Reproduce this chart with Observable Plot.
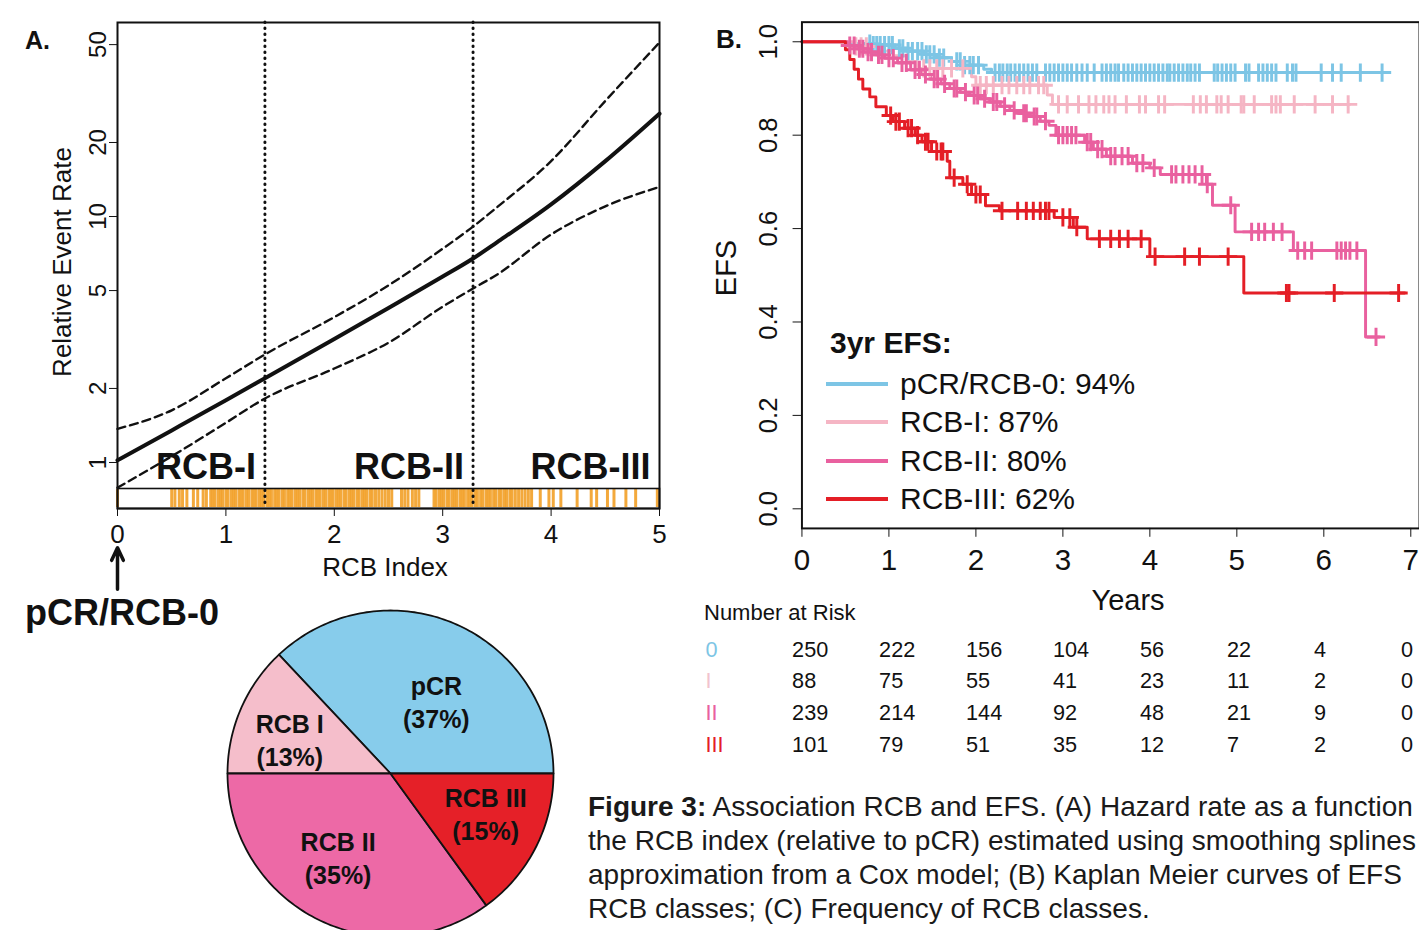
<!DOCTYPE html>
<html><head><meta charset="utf-8">
<script src="https://cdn.jsdelivr.net/npm/d3@7"></script>
<script src="https://cdn.jsdelivr.net/npm/@observablehq/plot@0.6"></script>
<style>
html,body{margin:0;padding:0;background:#fff;}
body{width:1419px;height:930px;overflow:hidden;position:relative;font-family:"Liberation Sans",Arial,Helvetica,sans-serif;color:#111;}
.abs{position:absolute;white-space:nowrap;line-height:1;}
.c{transform:translate(-50%,-50%);}
.cy{transform:translateY(-50%);}
.rot{transform:translate(-50%,-50%) rotate(-90deg);}
svg{overflow:visible;}
</style></head><body>
<div id="panelA" class="abs" style="left:0;top:0"></div>
<div id="panelB" class="abs" style="left:700px;top:0"></div>
<div id="risk" class="abs" style="left:700px;top:620px"></div>
<div id="pie" class="abs" style="left:225px;top:608px"></div>

<div class="abs cy" style="left:25px;top:40px;font-size:25px;font-weight:bold">A.</div>
<div class="abs rot" style="left:62px;top:262px;font-size:26px">Relative Event Rate</div>
<div class="abs c" style="left:385px;top:567px;font-size:26px">RCB Index</div>
<div class="abs cy" style="left:25px;top:613px;font-size:36px;font-weight:bold">pCR/RCB-0</div>

<div class="abs cy" style="left:716px;top:39px;font-size:26px;font-weight:bold">B.</div>
<div class="abs rot" style="left:726px;top:268px;font-size:29px">EFS</div>
<div class="abs c" style="left:1128px;top:600px;font-size:29px">Years</div>
<div class="abs cy" style="left:704px;top:613px;font-size:22px">Number at Risk</div>

<div id="legend"></div>
<div id="caption" class="abs" style="left:588px;top:790px;font-size:28px;line-height:34px;color:#1a1a1a"></div>

<script>
const FONT = '"Liberation Sans", Arial, Helvetica, sans-serif';

// ---------------- Panel A: relative event rate vs RCB index ----------------
const rcbGrid   = [0, 0.5, 1, 1.36, 2, 2.5, 3, 3.28, 3.5, 4, 4.5, 5];
const rateFit   = [1.02, 1.35, 1.79, 2.2, 3.18, 4.25, 5.7, 6.75, 7.85, 11.2, 16.8, 26.2];
const rateUpper = [1.37, 1.63, 2.2, 2.75, 3.9, 5.25, 7.4, 9.1, 10.9, 16.8, 29.5, 51];
const rateLower = [0.79, 1.06, 1.45, 1.82, 2.41, 3.07, 4.3, 5.1, 5.8, 8.45, 11, 13.2];
const rcbCutpoints = [1.36, 3.28];
const rcbClassNames = ["RCB-I", "RCB-II", "RCB-III"];
const rcbClassUpper = [1.36, 3.28, 5];
const rateTicks = [1, 2, 5, 10, 20, 50];
const rcbTicks = [0, 1, 2, 3, 4, 5];
const rugIndex = [0, 0.5, 0.53, 0.57, 0.6, 0.64, 0.7, 0.74, 0.79, 0.82, 0.86,
  0.88, 0.9, 0.93, 0.95, 0.97, 1.0, 1.02, 1.05, 1.07, 1.09, 1.12, 1.14, 1.16, 1.19, 1.21, 1.24, 1.26, 1.28,
  1.31, 1.33, 1.35, 1.38, 1.4, 1.42, 1.45, 1.47, 1.49, 1.52, 1.54, 1.57, 1.59, 1.61, 1.64, 1.66, 1.68, 1.71,
  1.73, 1.76, 1.78, 1.8, 1.83, 1.85, 1.87, 1.9, 1.92, 1.95, 1.97, 1.99, 2.02, 2.04, 2.06, 2.09, 2.11, 2.14,
  2.16, 2.18, 2.21, 2.23, 2.26, 2.28, 2.3, 2.33, 2.35, 2.38, 2.41, 2.44, 2.47, 2.5, 2.53, 2.62, 2.65, 2.68,
  2.72, 2.75, 2.78, 2.92, 2.94, 2.97, 2.99, 3.01, 3.04, 3.06, 3.09, 3.11, 3.13, 3.16, 3.18, 3.2, 3.23, 3.25,
  3.27, 3.3, 3.32, 3.35, 3.37, 3.4, 3.42, 3.44, 3.47, 3.49, 3.52, 3.54, 3.57, 3.59, 3.62, 3.64, 3.67, 3.7,
  3.73, 3.76, 3.79, 3.82, 3.9, 3.98, 4.02, 4.09, 4.24, 4.37, 4.42, 4.52, 4.58, 4.69, 4.78, 4.98];

const hazard = rcbGrid.map((x, i) => ({x, fit: rateFit[i], hi: rateUpper[i], lo: rateLower[i]}));

const plotA = Plot.plot({
  width: 700, height: 600,
  marginLeft: 117, marginRight: 41, marginTop: 22, marginBottom: 92,
  x: {domain: [0, 5]},
  y: {type: "log", domain: [0.65, 61.5]},
  style: {fontFamily: FONT, fontSize: "25px", color: "#111", background: "none", overflow: "visible"},
  marks: [
    Plot.ruleX(rugIndex, {insetTop: 467, insetBottom: 1, stroke: "#F2A22B", strokeWidth: 3, strokeOpacity: 0.92}),
    Plot.frame({insetTop: 466, stroke: "#111", strokeWidth: 1.6}),
    Plot.ruleX(rcbCutpoints, {stroke: "#111", strokeWidth: 3, strokeDasharray: "0.5 5.5", strokeLinecap: "round"}),
    Plot.line(hazard, {x: "x", y: "hi", curve: "monotone-x", stroke: "#111", strokeWidth: 2.4, strokeDasharray: "8 5"}),
    Plot.line(hazard, {x: "x", y: "lo", curve: "monotone-x", stroke: "#111", strokeWidth: 2.4, strokeDasharray: "8 5"}),
    Plot.line(hazard, {x: "x", y: "fit", curve: "monotone-x", stroke: "#111", strokeWidth: 4}),
    Plot.text(rcbClassNames, {x: (d, i) => rcbClassUpper[i], text: d => d, frameAnchor: "bottom", lineAnchor: "middle",
      dy: -41, textAnchor: "end", dx: -9, fontSize: 36, fontWeight: "bold", fill: "#111"}),
    Plot.frame({stroke: "#111", strokeWidth: 2}),
    Plot.axisY(rateTicks, {tickRotate: -90, tickSize: 8, tickPadding: 4, tickFormat: d => String(d), label: null, fontSize: 24}),
    Plot.axisX(rcbTicks, {tickSize: 8, tickPadding: 8, tickFormat: d => String(d), label: null, fontSize: 26}),
    Plot.arrow([0], {x1: 0, x2: 0, y1: 0.305, y2: 0.45, stroke: "#111", strokeWidth: 3.5, headLength: 14, headAngle: 50})
  ]
});
document.getElementById("panelA").append(plotA);

// ---------------- Panel B: Kaplan-Meier EFS ----------------
const groupNames  = ["pCR/RCB-0", "RCB-I", "RCB-II", "RCB-III"];
const groupColors = ["#7DC5E5", "#F5B5C4", "#E9609F", "#E41E26"];
const efs3yr      = [94, 87, 80, 62];

const pcrTimes = [0, 0.5, 0.8, 1.07, 1.2, 1.4, 1.55, 1.72, 1.85, 2.09, 2.18, 6.73];
const pcrSurv  = [1, 0.996, 0.993, 0.986, 0.98, 0.973, 0.966, 0.958, 0.95, 0.941, 0.934, 0.934];
const pcrCensor = [0.78, 0.82, 0.86, 0.9, 0.95, 1.0, 1.04, 1.12, 1.16, 1.22, 1.27, 1.33, 1.38, 1.43, 1.47, 1.52,
  1.58, 1.63, 1.78, 1.82, 1.87, 1.93, 1.97, 2.03, 2.22, 2.27, 2.31, 2.36, 2.4, 2.45, 2.5, 2.55, 2.6, 2.65, 2.7,
  2.8, 2.85, 2.9, 2.95, 3.0, 3.05, 3.1, 3.16, 3.22, 3.28, 3.36, 3.45, 3.5, 3.55, 3.6, 3.64, 3.7, 3.75, 3.8,
  3.85, 3.9, 3.95, 4.0, 4.05, 4.1, 4.15, 4.2, 4.23, 4.28, 4.33, 4.38, 4.43, 4.47, 4.52, 4.57, 4.74, 4.78, 4.83,
  4.88, 4.93, 4.98, 5.1, 5.14, 5.25, 5.3, 5.35, 5.4, 5.45, 5.58, 5.64, 5.68, 5.97, 6.1, 6.2, 6.42, 6.67];

const rcb1Times = [0, 0.6, 0.9, 1.05, 1.2, 1.32, 1.95, 2.0, 2.82, 2.88, 6.3];
const rcb1Surv  = [1, 0.99, 0.98, 0.97, 0.958, 0.943, 0.925, 0.907, 0.886, 0.866, 0.866];
const rcb1Censor = [0.62, 0.68, 0.74, 1.4, 1.47, 1.55, 1.62, 1.72, 1.85, 2.05, 2.12, 2.2, 2.3, 2.38, 2.47, 2.55,
  2.62, 2.72, 2.78, 2.95, 3.05, 3.18, 3.3, 3.38, 3.47, 3.53, 3.6, 3.73, 3.88, 3.95, 4.1, 4.17, 4.5, 4.58, 4.65,
  4.77, 4.82, 4.9, 5.05, 5.08, 5.2, 5.4, 5.45, 5.5, 5.66, 5.9, 6.1, 6.28];

const rcb2Times = [0, 0.52, 0.62, 0.72, 0.85, 0.95, 1.1, 1.25, 1.38, 1.48, 1.6, 1.7, 1.82, 1.93, 2.05, 2.16, 2.28,
  2.39, 2.5, 2.62, 2.74, 2.84, 2.92, 3.25, 3.35, 3.5, 3.8, 4.0, 4.12, 4.65, 4.72, 4.98, 5.65, 6.48, 6.64];
const rcb2Surv  = [1, 0.992, 0.985, 0.978, 0.972, 0.965, 0.955, 0.94, 0.93, 0.92, 0.91, 0.9, 0.892, 0.885, 0.878,
  0.871, 0.862, 0.853, 0.847, 0.84, 0.83, 0.821, 0.8, 0.785, 0.77, 0.755, 0.74, 0.73, 0.716, 0.695, 0.65, 0.593,
  0.553, 0.368, 0.368];
const rcb2Censor = [0.55, 0.6, 0.66, 0.7, 0.76, 0.8, 0.88, 0.92, 1.0, 1.05, 1.15, 1.2, 1.3, 1.35, 1.42, 1.52, 1.56,
  1.64, 1.75, 1.78, 1.88, 1.98, 2.02, 2.1, 2.2, 2.24, 2.33, 2.44, 2.55, 2.58, 2.67, 2.7, 2.8, 2.95, 3.0, 3.05,
  3.1, 3.15, 3.28, 3.32, 3.4, 3.45, 3.55, 3.6, 3.68, 3.75, 3.85, 3.92, 4.05, 4.25, 4.3, 4.38, 4.45, 4.52, 4.6,
  4.66, 4.93, 5.17, 5.25, 5.32, 5.42, 5.52, 5.7, 5.78, 5.86, 6.15, 6.2, 6.25, 6.3, 6.38, 6.6];

const rcb3Times = [0, 0.5, 0.55, 0.6, 0.65, 0.7, 0.78, 0.85, 0.97, 1.05, 1.18, 1.3, 1.38, 1.49, 1.67, 1.7, 1.85,
  1.95, 2.11, 2.27, 2.9, 3.12, 3.28, 4.0, 5.08, 6.93];
const rcb3Surv  = [1, 0.983, 0.962, 0.941, 0.92, 0.899, 0.882, 0.861, 0.842, 0.829, 0.815, 0.8, 0.786, 0.765, 0.744,
  0.709, 0.695, 0.673, 0.649, 0.638, 0.624, 0.603, 0.578, 0.54, 0.462, 0.462];
const rcb3Censor = [1.02, 1.08, 1.12, 1.22, 1.26, 1.33, 1.42, 1.45, 1.55, 1.6, 1.62, 1.75, 1.9, 2.0, 2.05, 2.3,
  2.48, 2.58, 2.66, 2.74, 2.8, 2.84, 3.0, 3.08, 3.16, 3.42, 3.55, 3.65, 3.75, 3.9, 4.06, 4.4, 4.57, 4.9, 5.57,
  5.6, 6.12, 6.86];

const yearTicks = [0, 1, 2, 3, 4, 5, 6, 7];
const efsTicks = [0, 0.2, 0.4, 0.6, 0.8, 1.0];

const kmGroups = [
  {times: pcrTimes, surv: pcrSurv, censor: pcrCensor},
  {times: rcb1Times, surv: rcb1Surv, censor: rcb1Censor},
  {times: rcb2Times, surv: rcb2Surv, censor: rcb2Censor},
  {times: rcb3Times, surv: rcb3Surv, censor: rcb3Censor}
].map((g, k) => {
  const steps = g.times.map((t, i) => ({t, s: g.surv[i]}));
  const survAt = t => { let s = g.surv[0]; g.times.forEach((ti, i) => { if (ti <= t) s = g.surv[i]; }); return s; };
  const marks = g.censor.map(t => ({t, s: survAt(t)}));
  return {steps, marks, color: groupColors[k]};
});

const plotB = Plot.plot({
  width: 730, height: 620,
  marginLeft: 103, marginRight: 0, marginTop: 22, marginBottom: 84,
  x: {domain: [0, 7.1]},
  y: {domain: [-0.042, 1.042]},
  style: {fontFamily: FONT, fontSize: "26px", color: "#111", background: "none", overflow: "visible"},
  marks: [
    ...kmGroups.map(g => Plot.line(g.steps, {x: "t", y: "s", curve: "step-after", stroke: g.color, strokeWidth: 3})),
    ...kmGroups.map(g => Plot.dot(g.marks, {x: "t", y: "s", symbol: "plus", r: 6, stroke: g.color, strokeWidth: 3})),
    Plot.frame({stroke: "#111", strokeWidth: 2}),
    Plot.axisX(yearTicks, {tickSize: 9, tickPadding: 12, tickFormat: d => String(d), label: null, fontSize: 30}),
    Plot.axisY(efsTicks, {tickRotate: -90, tickSize: 9, tickPadding: 16, tickFormat: d => d.toFixed(1), label: null, fontSize: 26})
  ]
});
document.getElementById("panelB").append(plotB);

// legend (3yr EFS)
const legendEl = document.getElementById("legend");
legendEl.innerHTML = `<div class="abs cy" style="left:830px;top:343px;font-size:30px;font-weight:bold">3yr EFS:</div>` +
  groupNames.map((name, i) => {
    const y = [384, 422, 461, 499][i];
    return `<div class="abs" style="left:826px;top:${y - 2}px;width:62px;height:4px;background:${groupColors[i]}"></div>` +
      `<div class="abs cy" style="left:900px;top:${y}px;font-size:30px">${name}: ${efs3yr[i]}%</div>`;
  }).join("");

// ---------------- Number at risk table ----------------
const riskRowKeys   = ["0", "I", "II", "III"];
const riskRowColors = ["#7DC5E5", "#F2C3CE", "#E9609F", "#E41E26"];
const riskPcr  = [250, 222, 156, 104, 56, 22, 4, 0];
const riskRcb1 = [88, 75, 55, 41, 23, 11, 2, 0];
const riskRcb2 = [239, 214, 144, 92, 48, 21, 9, 0];
const riskRcb3 = [101, 79, 51, 35, 12, 7, 2, 0];
const riskRows = [riskPcr, riskRcb1, riskRcb2, riskRcb3];
const riskCells = riskRows.flatMap((row, r) => row.map((n, k) => ({row: riskRowKeys[r], year: yearTicks[k], n})));

const plotRisk = Plot.plot({
  width: 730, height: 140,
  marginLeft: 103, marginRight: 0, marginTop: 29, marginBottom: 14,
  x: {domain: [0, 7.1], axis: null},
  y: {type: "point", domain: riskRowKeys, padding: 0, axis: null},
  style: {fontFamily: FONT, fontSize: "22px", color: "#111", background: "none", overflow: "visible"},
  marks: [
    Plot.text(riskCells, {x: "year", y: "row", text: d => String(d.n), textAnchor: "start", dx: -10, fill: "#111", fontSize: 22}),
    Plot.text(riskRowKeys, {y: d => d, text: d => d, frameAnchor: "left", textAnchor: "start", dx: -98,
      fill: (d, i) => riskRowColors[i], fontSize: 22})
  ]
});
document.getElementById("risk").append(plotRisk);

// ---------------- Pie chart: frequency of RCB classes ----------------
const pieNames  = ["pCR", "RCB I", "RCB II", "RCB III"];
const pieShares = [37, 13, 35, 15];
const pieColors = ["#87CCEB", "#F5BECB", "#ED69A6", "#E52028"];
const pieLabelShift = [[7, 17], [-11, 4], [-8, -4], [8, -5]];

let acc = 0;
const slices = pieShares.map((p, i) => {
  const a0 = acc / 100 * 2 * Math.PI;
  acc += p;
  const a1 = acc / 100 * 2 * Math.PI;
  const n = Math.max(8, Math.round(p * 3));
  const pts = [{x: 0, y: 0}];
  for (let j = 0; j <= n; j++) {
    const a = a0 + (a1 - a0) * j / n;
    pts.push({x: Math.cos(a), y: Math.sin(a)});
  }
  const am = (a0 + a1) / 2;
  return {pts, color: pieColors[i], label: {x: 0.6 * Math.cos(am), y: 0.6 * Math.sin(am), text: `${pieNames[i]}\n(${p}%)`}};
});

const plotPie = Plot.plot({
  width: 330, height: 330, margin: 0,
  x: {domain: [-165 / 163, 165 / 163], axis: null},
  y: {domain: [-165 / 163, 165 / 163], axis: null},
  style: {fontFamily: FONT, background: "none", overflow: "visible"},
  marks: [
    ...slices.map(s => Plot.line(s.pts, {x: "x", y: "y", curve: "linear-closed", fill: s.color, stroke: "#111", strokeWidth: 1.8})),
    ...slices.map((s, i) => Plot.text([s.label], {x: "x", y: "y", text: "text", fontSize: 25, fontWeight: "bold",
      fill: "#111", lineHeight: 1.32, dx: pieLabelShift[i][0], dy: pieLabelShift[i][1]}))
  ]
});
document.getElementById("pie").append(plotPie);

// ---------------- Caption ----------------
const captionLines = [
  "<b>Figure 3:</b> Association RCB and EFS. (A) Hazard rate as a function",
  "the RCB index (relative to pCR) estimated using smoothing splines",
  "approximation from a Cox model; (B) Kaplan Meier curves of EFS",
  "RCB classes; (C) Frequency of RCB classes."
];
document.getElementById("caption").innerHTML = captionLines.map(l => `<div>${l}</div>`).join("");
</script>
</body></html>
